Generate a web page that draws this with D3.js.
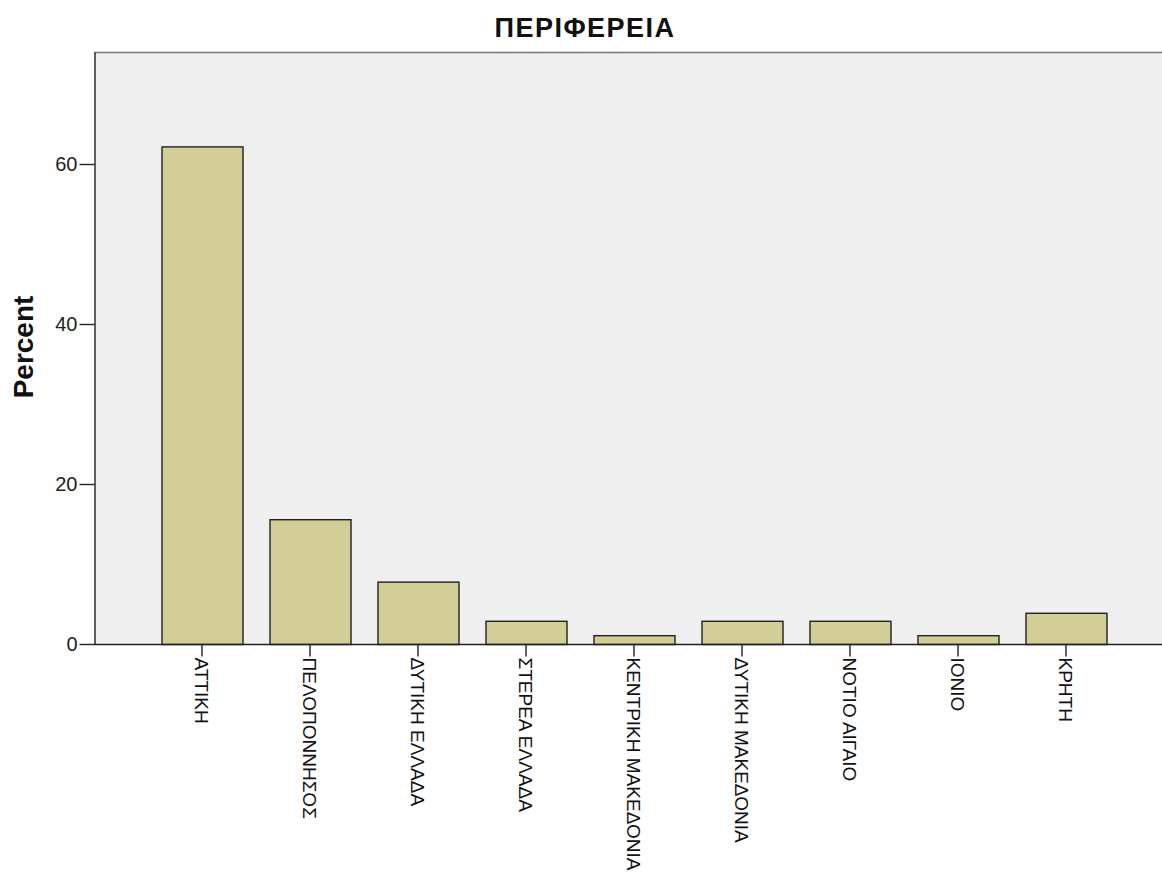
<!DOCTYPE html>
<html><head><meta charset="utf-8">
<script src="https://cdn.jsdelivr.net/npm/d3@7"></script>
<style>body{margin:0;background:#fff}svg{display:block;font-family:"Liberation Sans",Arial,sans-serif}</style>
</head><body>
<script>
const categories = ["ΑΤΤΙΚΗ","ΠΕΛΟΠΟΝΝΗΣΟΣ","ΔΥΤΙΚΗ ΕΛΛΑΔΑ","ΣΤΕΡΕΑ ΕΛΛΑΔΑ","ΚΕΝΤΡΙΚΗ ΜΑΚΕΔΟΝΙΑ","ΔΥΤΙΚΗ ΜΑΚΕΔΟΝΙΑ","ΝΟΤΙΟ ΑΙΓΑΙΟ","ΙΟΝΙΟ","ΚΡΗΤΗ"];
const percents = [62.2, 15.6, 7.8, 2.9, 1.1, 2.9, 2.9, 1.1, 3.9];
const yTicks = [0, 20, 40, 60];
const title = "ΠΕΡΙΦΕΡΕΙΑ";
const yLabel = "Percent";

const W = 1162, H = 874;
const mLeft = 94, mRight = 1162, mTop = 52, mBottom = 644;
const svg = d3.select("body").append("svg").attr("width", W).attr("height", H);

const x = d3.scaleBand().domain(categories).range([148, 1120]).paddingInner(0.25).paddingOuter(0.125);
const y = d3.scaleLinear().domain([0, 74]).range([mBottom, mTop]);

svg.append("rect").attr("x", mLeft).attr("y", mTop).attr("width", mRight - mLeft).attr("height", mBottom - mTop).attr("fill", "#efefef");
svg.append("line").attr("x1", mLeft).attr("x2", mRight).attr("y1", mTop + 0.5).attr("y2", mTop + 0.5).attr("stroke", "#777").attr("stroke-width", 1.5);

svg.append("g").selectAll("rect").data(categories).join("rect")
  .attr("x", d => x(d) + 0.5)
  .attr("y", (d, i) => y(percents[i]) + 0.5)
  .attr("width", x.bandwidth())
  .attr("height", (d, i) => y(0) - y(percents[i]))
  .attr("fill", "#d3ce97").attr("stroke", "#222").attr("stroke-width", 1.4);

const yAxis = svg.append("g").attr("transform", `translate(${mLeft + 0.5},0)`)
  .call(d3.axisLeft(y).tickValues(yTicks).tickSize(15).tickPadding(2).tickSizeOuter(0));
yAxis.select(".domain").attr("stroke", "#222").attr("stroke-width", 1.4);
yAxis.selectAll(".tick line").attr("stroke", "#222").attr("stroke-width", 1.4);
yAxis.selectAll("text").attr("font-size", 20).attr("fill", "#222").attr("font-family", "Liberation Sans, Arial, sans-serif");

const xAxis = svg.append("g").attr("transform", `translate(0,${mBottom + 0.5})`)
  .call(d3.axisBottom(x).tickSize(12).tickPadding(2).tickSizeOuter(0));
xAxis.select(".domain").attr("d", `M${mLeft},0H${mRight}`).attr("stroke", "#222").attr("stroke-width", 1.4);
xAxis.selectAll(".tick line").attr("stroke", "#222").attr("stroke-width", 1.4);
xAxis.selectAll("text")
  .attr("font-size", 19).attr("fill", "#111").attr("font-family", "Liberation Sans, Arial, sans-serif")
  .attr("text-anchor", "start")
  .attr("transform", "translate(0,13) rotate(90)")
  .attr("x", 0).attr("y", 0).attr("dy", "0.35em");

svg.append("text").attr("x", 585).attr("y", 37).attr("text-anchor", "middle")
  .attr("font-size", 27).attr("font-weight", "bold").attr("letter-spacing", 1.5).attr("fill", "#111").text(title);
svg.append("text").attr("transform", "translate(33,347) rotate(-90)").attr("text-anchor", "middle")
  .attr("font-size", 28).attr("font-weight", "bold").attr("fill", "#111").text(yLabel);
</script>
</body></html>
